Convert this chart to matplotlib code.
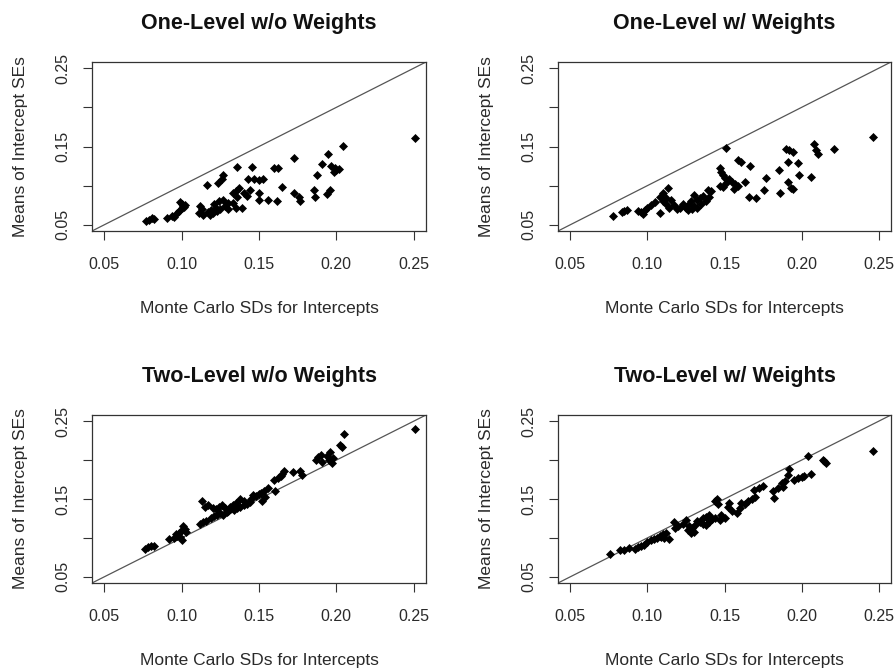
import matplotlib
matplotlib.use("Agg")
import matplotlib.pyplot as plt
import numpy as np

plt.rcParams['font.family'] = ['Liberation Sans', 'DejaVu Sans']

titles = ["One-Level w/o Weights", "One-Level w/ Weights",
          "Two-Level w/o Weights", "Two-Level w/ Weights"]
xlabel = "Monte Carlo SDs for Intercepts"
ylabel = "Means of Intercept SEs"
xticks = [0.05, 0.10, 0.15, 0.20, 0.25]
xticklabels = ["0.05", "0.10", "0.15", "0.20", "0.25"]
yticks = [0.05, 0.10, 0.15, 0.20, 0.25]
yticklabels = ["0.05", "", "0.15", "", "0.25"]

# Panel 1: One-Level w/o Weights
x1 = [0.0771, 0.0790, 0.0807, 0.0820, 0.0904, 0.0936, 0.0950, 0.0968, 0.0985, 0.1000,
      0.1010, 0.1022, 0.0990, 0.1005, 0.1015, 0.1163, 0.1238, 0.1270, 0.1260, 0.1120,
      0.1130, 0.1115, 0.1140, 0.1170, 0.1190, 0.1220, 0.1250, 0.1280, 0.1300, 0.1210,
      0.1240, 0.1270, 0.1180, 0.1200, 0.1230, 0.1357, 0.1330, 0.1350, 0.1370, 0.1400,
      0.1420, 0.1360, 0.1350, 0.1330, 0.1300, 0.1390, 0.1454, 0.1432, 0.1465, 0.1497,
      0.1528, 0.1440, 0.1497, 0.1497, 0.1594, 0.1626, 0.1560, 0.1615, 0.1648, 0.1724,
      0.1724, 0.1756, 0.1765, 0.1853, 0.1864, 0.1875, 0.1907, 0.1948, 0.1965, 0.1990,
      0.2000, 0.2020, 0.1985, 0.1960, 0.1940, 0.2044, 0.2511]
y1 = [0.0542, 0.0560, 0.0585, 0.0570, 0.0585, 0.0606, 0.0600, 0.0649, 0.0680, 0.0712,
      0.0740, 0.0754, 0.0797, 0.0770, 0.0730, 0.1009, 0.1030, 0.1136, 0.1080, 0.0740,
      0.0700, 0.0650, 0.0630, 0.0660, 0.0690, 0.0720, 0.0700, 0.0740, 0.0780, 0.0760,
      0.0800, 0.0820, 0.0620, 0.0650, 0.0670, 0.1241, 0.0900, 0.0930, 0.0970, 0.0900,
      0.0870, 0.0860, 0.0720, 0.0780, 0.0700, 0.0710, 0.1241, 0.1090, 0.1090, 0.1075,
      0.1090, 0.0950, 0.0901, 0.0816, 0.1220, 0.1220, 0.0816, 0.0800, 0.0987, 0.1348,
      0.0902, 0.0860, 0.0800, 0.0940, 0.0860, 0.1140, 0.1280, 0.1400, 0.1250, 0.1230,
      0.1200, 0.1210, 0.1180, 0.0940, 0.0890, 0.1508, 0.1610]

# Panel 2: One-Level w/ Weights
x2 = [0.0779, 0.0834, 0.0866, 0.0850, 0.0940, 0.0960, 0.0985, 0.0970, 0.1000, 0.1020,
      0.1050, 0.1081, 0.1100, 0.1135, 0.1100, 0.1120, 0.1150, 0.1081, 0.1120, 0.1140,
      0.1170, 0.1190, 0.1210, 0.1230, 0.1250, 0.1270, 0.1280, 0.1300, 0.1320, 0.1340,
      0.1360, 0.1350, 0.1300, 0.1290, 0.1320, 0.1260, 0.1380, 0.1400, 0.1410, 0.1390,
      0.1470, 0.1480, 0.1490, 0.1500, 0.1470, 0.1490, 0.1510, 0.1530, 0.1550, 0.1570,
      0.1590, 0.1560, 0.1511, 0.1586, 0.1608, 0.1630, 0.1662, 0.1705, 0.1668, 0.1770,
      0.1759, 0.1856, 0.1863, 0.1900, 0.1920, 0.1943, 0.1910, 0.1975, 0.1910, 0.1932,
      0.1943, 0.1986, 0.2062, 0.2083, 0.2094, 0.2105, 0.2208, 0.2461]
y2 = [0.0606, 0.0669, 0.0690, 0.0680, 0.0680, 0.0660, 0.0690, 0.0640, 0.0720, 0.0750,
      0.0790, 0.0860, 0.0900, 0.0966, 0.0800, 0.0840, 0.0810, 0.0648, 0.0760, 0.0720,
      0.0750, 0.0700, 0.0710, 0.0760, 0.0720, 0.0760, 0.0800, 0.0740, 0.0820, 0.0840,
      0.0870, 0.0770, 0.0880, 0.0700, 0.0710, 0.0690, 0.0800, 0.0850, 0.0930, 0.0950,
      0.1230, 0.1180, 0.1140, 0.1100, 0.1000, 0.0980, 0.1030, 0.1080, 0.1050, 0.1020,
      0.1000, 0.0960, 0.1475, 0.1326, 0.1297, 0.1040, 0.0860, 0.0839, 0.1254, 0.1093,
      0.0945, 0.1199, 0.0903, 0.1470, 0.1453, 0.1432, 0.1297, 0.1284, 0.1051, 0.0966,
      0.0953, 0.1136, 0.1114, 0.1538, 0.1453, 0.1403, 0.1462, 0.1623]

# Panel 3: Two-Level w/o Weights
x3 = [0.0763, 0.0780, 0.0800, 0.0820, 0.0920, 0.0950, 0.0970, 0.0990, 0.0980, 0.1000,
      0.1010, 0.1020, 0.1030, 0.1000, 0.0960, 0.1120, 0.1140, 0.1160, 0.1190, 0.1210,
      0.1230, 0.1130, 0.1150, 0.1170, 0.1200, 0.1220, 0.1240, 0.1260, 0.1280, 0.1300,
      0.1250, 0.1270, 0.1290, 0.1310, 0.1330, 0.1350, 0.1320, 0.1340, 0.1360, 0.1380,
      0.1400, 0.1380, 0.1400, 0.1420, 0.1440, 0.1450, 0.1460, 0.1480, 0.1500, 0.1510,
      0.1530, 0.1520, 0.1540, 0.1560, 0.1605, 0.1600, 0.1620, 0.1640, 0.1650, 0.1660,
      0.1720, 0.1766, 0.1777, 0.1870, 0.1880, 0.1900, 0.1910, 0.1940, 0.1950, 0.1960,
      0.1970, 0.1980, 0.2025, 0.2036, 0.2047, 0.2511]
y3 = [0.0860, 0.0880, 0.0890, 0.0900, 0.0980, 0.1000, 0.1030, 0.1010, 0.1060, 0.1100,
      0.1150, 0.1120, 0.1080, 0.0970, 0.1050, 0.1180, 0.1200, 0.1220, 0.1250, 0.1280,
      0.1300, 0.1475, 0.1400, 0.1420, 0.1380, 0.1370, 0.1400, 0.1420, 0.1380, 0.1350,
      0.1320, 0.1300, 0.1330, 0.1400, 0.1420, 0.1450, 0.1380, 0.1360, 0.1380, 0.1400,
      0.1420, 0.1500, 0.1480, 0.1430, 0.1460, 0.1500, 0.1550, 0.1540, 0.1560, 0.1580,
      0.1600, 0.1480, 0.1520, 0.1640, 0.1602, 0.1750, 0.1770, 0.1790, 0.1820, 0.1856,
      0.1847, 0.1856, 0.1814, 0.2000, 0.2040, 0.2070, 0.1980, 0.2050, 0.2000, 0.2110,
      0.1960, 0.2030, 0.2195, 0.2174, 0.2330, 0.2398]

# Panel 4: Two-Level w/ Weights
x4 = [0.0755, 0.0820, 0.0850, 0.0880, 0.0920, 0.0940, 0.0960, 0.0980, 0.1000, 0.1020,
      0.1040, 0.1060, 0.1080, 0.1100, 0.1120, 0.1090, 0.1110, 0.1140, 0.1170, 0.1180,
      0.1200, 0.1230, 0.1250, 0.1260, 0.1280, 0.1300, 0.1270, 0.1290, 0.1310, 0.1320,
      0.1340, 0.1360, 0.1380, 0.1400, 0.1360, 0.1380, 0.1400, 0.1420, 0.1440, 0.1450,
      0.1440, 0.1460, 0.1480, 0.1470, 0.1500, 0.1520, 0.1530, 0.1550, 0.1580, 0.1600,
      0.1610, 0.1630, 0.1650, 0.1680, 0.1700, 0.1694, 0.1727, 0.1748, 0.1813, 0.1823,
      0.1850, 0.1870, 0.1880, 0.1890, 0.1921, 0.1910, 0.1950, 0.1975, 0.2000, 0.2018,
      0.2062, 0.2040, 0.2137, 0.2148, 0.2159, 0.2461]
y4 = [0.0788, 0.0840, 0.0850, 0.0870, 0.0860, 0.0880, 0.0900, 0.0910, 0.0950, 0.0970,
      0.0990, 0.1000, 0.1030, 0.1050, 0.1060, 0.1010, 0.1000, 0.0980, 0.1200, 0.1130,
      0.1150, 0.1180, 0.1230, 0.1100, 0.1060, 0.1080, 0.1150, 0.1130, 0.1170, 0.1220,
      0.1200, 0.1250, 0.1270, 0.1300, 0.1180, 0.1160, 0.1200, 0.1240, 0.1260, 0.1500,
      0.1470, 0.1440, 0.1300, 0.1230, 0.1250, 0.1400, 0.1450, 0.1350, 0.1320, 0.1380,
      0.1450, 0.1430, 0.1470, 0.1500, 0.1520, 0.1610, 0.1644, 0.1665, 0.1600, 0.1517,
      0.1640, 0.1700, 0.1660, 0.1730, 0.1886, 0.1814, 0.1740, 0.1771, 0.1780, 0.1792,
      0.1822, 0.2055, 0.2004, 0.1983, 0.1962, 0.2119]

xs = [x1, x2, x3, x4]
ys = [y1, y2, y3, y4]

W, H = 896, 669
fig = plt.figure(figsize=(W / 100, H / 100), dpi=100)

# axes boxes in pixels: (left, top, right, bottom)
boxes = [(92, 62, 426, 231), (558, 62, 891, 231),
         (92, 415, 426, 583), (558, 415, 891, 583)]

lim = (0.042, 0.258)
axcol = '#333333'
txtcol = '#2a2a2a'

for i, (l, t, r, b) in enumerate(boxes):
    ax = fig.add_axes([l / W, 1 - b / H, (r - l) / W, (b - t) / H])
    ax.set_xlim(*lim)
    ax.set_ylim(*lim)
    ax.plot(lim, lim, color='#555555', lw=0.9, zorder=1)
    ax.plot(xs[i], ys[i], linestyle='none', marker='D', ms=4.3,
            mfc='black', mec='black', mew=0.5, zorder=2)
    ax.set_xticks(xticks)
    ax.set_xticklabels(xticklabels)
    ax.set_yticks(yticks)
    ax.set_yticklabels(yticklabels, rotation=90, va='center')
    ax.tick_params(axis='both', direction='out', length=6.5, width=0.8,
                   color=axcol, labelsize=11.5, labelcolor=txtcol)
    ax.tick_params(axis='x', pad=12)
    ax.tick_params(axis='y', pad=9)
    for s in ax.spines.values():
        s.set_color(axcol)
        s.set_linewidth(0.9)
    ax.set_title(titles[i], fontsize=15.5, fontweight='bold', pad=24, color='#111111')
    ax.set_xlabel(xlabel, fontsize=12.5, color=txtcol, labelpad=21)
    ax.set_ylabel(ylabel, fontsize=12.5, color=txtcol, labelpad=20)

fig.savefig("out.png", dpi=100)
